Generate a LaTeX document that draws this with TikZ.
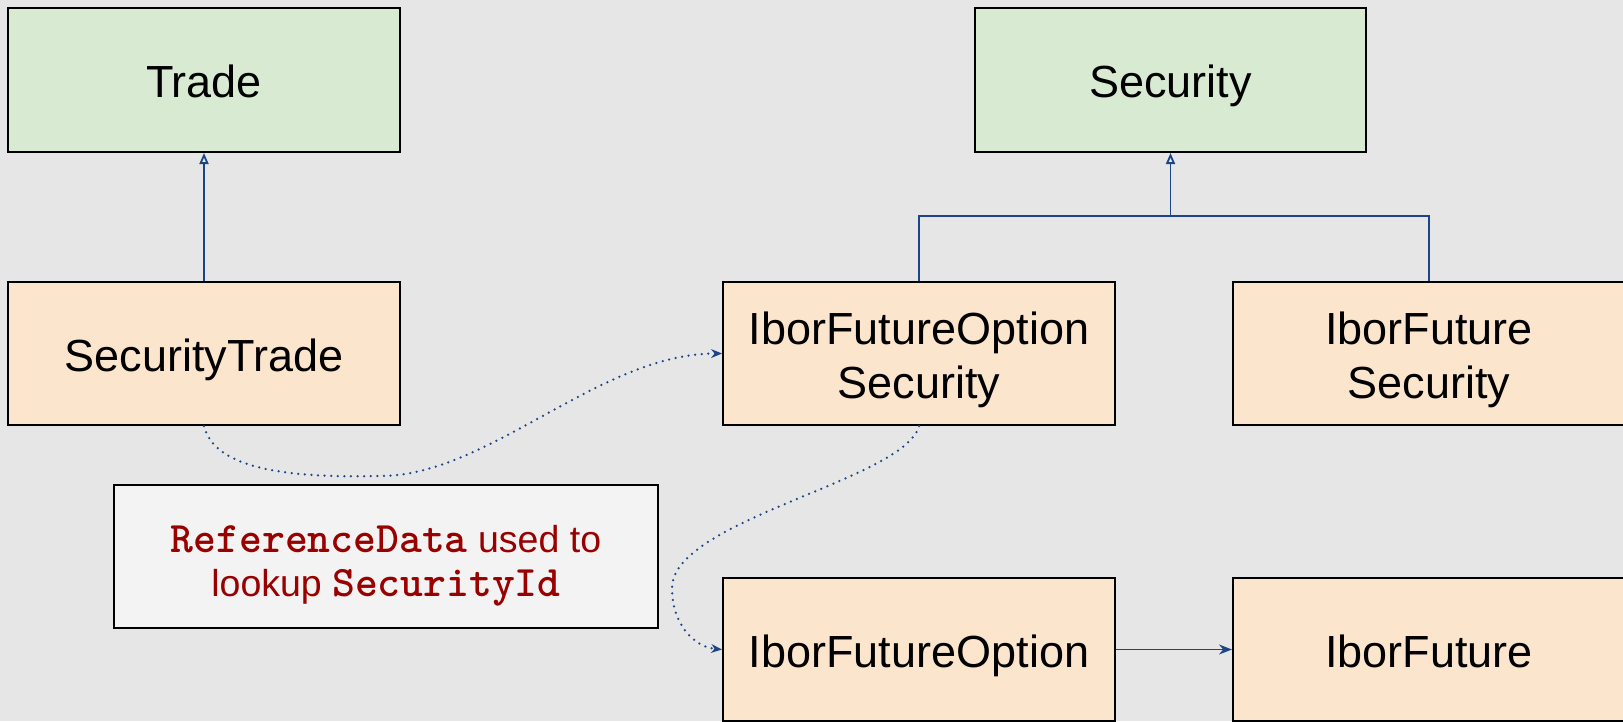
\documentclass[tikz,border=0pt]{standalone}
\usepackage{fontspec}
\setmainfont{Liberation Sans}
\usetikzlibrary{arrows.meta}

\definecolor{canvas}{HTML}{E6E6E6}
\definecolor{basefill}{HTML}{D9EAD3}
\definecolor{implfill}{HTML}{FCE5CD}
\definecolor{notefill}{HTML}{F3F3F3}
\definecolor{linkblue}{HTML}{1C4587}
\definecolor{notered}{HTML}{990000}

\newcommand{\codeword}[1]{{\ttfamily\bfseries\fontsize{43.5}{44}\selectfont #1}}

\begin{document}
\begin{tikzpicture}[x=1pt,y=-1pt,
  classbox/.style={draw=black, line width=2pt, inner sep=0pt,
    minimum width=392pt, minimum height=143pt, align=center,
    text depth=0pt, font=\fontsize{45}{54}\selectfont},
  oneline/.style={text height=35pt},
  twoline/.style={text height=90pt},
  basebox/.style={classbox, oneline, fill=basefill, minimum height=144pt},
  implbox/.style={classbox, fill=implfill},
  notebox/.style={draw=black, line width=2pt, fill=notefill, inner sep=0pt,
    minimum width=544pt, minimum height=143pt, align=center,
    text height=79pt, text depth=0pt,
    text=notered, font=\fontsize{37.5}{44}\selectfont},
  inherit/.style={draw=linkblue, line width=1.8pt},
  inherittip/.style={inherit, -{Triangle[open, length=11pt, width=9pt, line width=1.8pt]}},
  solidlink/.style={draw=linkblue, line width=1.8pt,
    -{Stealth[length=13pt, width=10pt]}},
  lookuplink/.style={draw=linkblue, line width=2.5pt, line cap=round,
    dash pattern=on 0pt off 6.6pt,
    -{Stealth[length=11pt, width=9pt, line width=0pt]}}
]
\useasboundingbox (0,0) rectangle (1623,721);
\fill[canvas] (0,0) rectangle (1623,721);
\clip (0,0) rectangle (1623,721);

% base types
\node[basebox] (trade) at (204,80) {Trade};
\node[basebox, minimum width=391pt] (security) at (1170.5,80) {Security};

% concrete types
\node[implbox, oneline] (sectrade) at (204,353.5) {SecurityTrade};
\node[implbox, twoline] (optsec) at (919,353.5) {IborFutureOption\\Security};
\node[implbox, twoline] (futsec) at (1429,353.5) {IborFuture\\Security};
\node[implbox, oneline] (opt) at (919,649.5) {IborFutureOption};
\node[implbox, oneline] (fut) at (1429,649.5) {IborFuture};

% note
\node[notebox] (note) at (386,556.5)
  {\codeword{ReferenceData} used to\\lookup \codeword{SecurityId}};

% inheritance
\draw[inherittip] (sectrade.north) -- (trade.south);
\coordinate (hub) at (1170.5,216);
\draw[inherit] (optsec.north) |- (hub) -| (futsec.north);
\draw[inherittip] (hub) -- (security.south);

% underlying reference
\draw[solidlink] (opt.east) -- (fut.west);

% lookups via reference data
\draw[lookuplink] (sectrade.south)
  .. controls (215,470) and (290,478) .. (383,476)
  .. controls (490,474) and (600,354) .. (optsec.west);
\draw[lookuplink] (optsec.south)
  .. controls (905,480) and (672,520) .. (672,588)
  .. controls (672,625) and (695,647) .. (opt.west);
\end{tikzpicture}
\end{document}
